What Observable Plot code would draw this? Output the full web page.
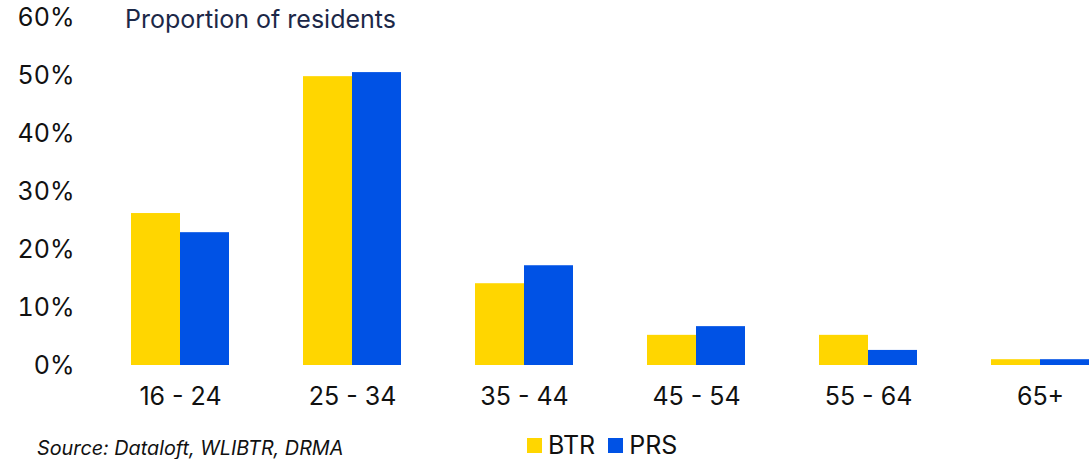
<!DOCTYPE html>
<html>
<head>
<meta charset="utf-8">
<script src="https://cdn.jsdelivr.net/npm/d3@7"></script>
<script src="https://cdn.jsdelivr.net/npm/@observablehq/plot@0.6"></script>
<style>
  html, body { margin: 0; padding: 0; background: #fff; }
  body { width: 1092px; height: 459px; position: relative; overflow: hidden; font-family: Inter, "Noto Sans", sans-serif; }
  #title { position: absolute; left: 125px; top: 4px; font-size: 25px; color: #1c2848; }
  #chart { position: absolute; left: 0; top: 0; }
  #footer { position: absolute; left: 0; top: 420px; width: 1092px; height: 39px; }
  #source { position: absolute; left: 37px; top: 16px; font-size: 19.8px; font-style: italic; color: #111; }
  #legend { position: absolute; left: 527px; top: 10px; font-size: 25px; color: #111; display: flex; align-items: center; }
  .sw { display: inline-block; width: 15px; height: 15px; margin-right: 6px; }
  .item { display: flex; align-items: center; margin-right: 13px; }
</style>
</head>
<body>
<div id="chart"></div>
<div id="title">Proportion of residents</div>
<div id="footer">
  <div id="source">Source: Dataloft, WLIBTR, DRMA</div>
  <div id="legend"></div>
</div>
<script>
const categories = ["16 - 24", "25 - 34", "35 - 44", "45 - 54", "55 - 64", "65+"];
const seriesNames = ["BTR", "PRS"];
const btrValues = [26.2, 49.8, 14.1, 5.2, 5.2, 1.0];
const prsValues = [22.9, 50.5, 17.2, 6.7, 2.6, 1.0];
const yTicks = [0, 10, 20, 30, 40, 50, 60];
const colors = ["#FFD600", "#0052E5"];

const data = [];
categories.forEach((c, i) => {
  data.push({category: c, series: "BTR", value: btrValues[i]});
  data.push({category: c, series: "PRS", value: prsValues[i]});
});

const chart = Plot.plot({
  width: 1092,
  height: 420,
  marginLeft: 130,
  marginRight: 2,
  marginTop: 17,
  marginBottom: 55,
  style: {fontFamily: "Inter, 'Noto Sans', sans-serif", fontSize: "25px", color: "#111"},
  fx: {domain: categories, paddingInner: 0.43, paddingOuter: 0, label: null},
  x: {domain: seriesNames, padding: 0, axis: null},
  y: {domain: [0, 60], ticks: yTicks, label: null},
  color: {domain: seriesNames, range: colors},
  marks: [
    Plot.barY(data, {fx: "category", x: "series", y: "value", fill: "series"}),
    Plot.axisY({ticks: yTicks, tickSize: 0, tickPadding: 57, tickFormat: d => d + "%", label: null, fontSize: 25}),
    Plot.axisFx({anchor: "bottom", tickSize: 0, tickPadding: 22, label: null, fontSize: 25})
  ]
});
document.getElementById("chart").appendChild(chart);

const legend = document.getElementById("legend");
seriesNames.forEach((s, i) => {
  const item = document.createElement("div");
  item.className = "item";
  const sw = document.createElement("span");
  sw.className = "sw";
  sw.style.background = colors[i];
  item.appendChild(sw);
  item.appendChild(document.createTextNode(s));
  legend.appendChild(item);
});
</script>
</body>
</html>
